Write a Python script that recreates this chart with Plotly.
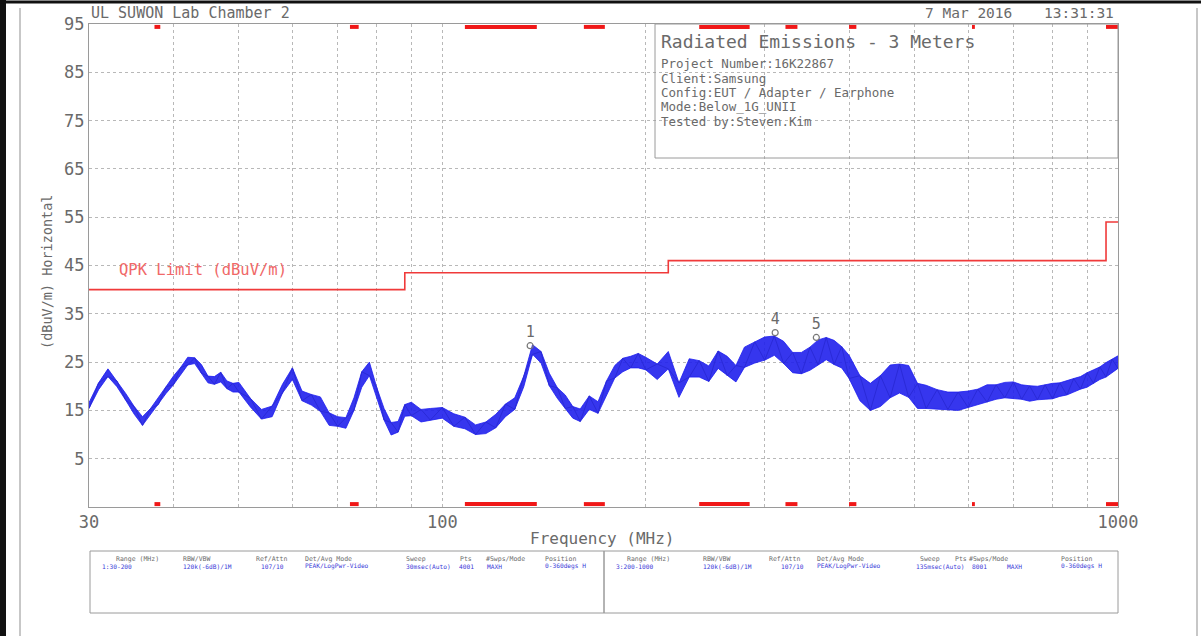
import math
import plotly.graph_objects as go

# Sweep: frequency (MHz), trace centre and half-width of the noise (dBuV/m)
freq = [30, 31, 32, 33, 34, 35, 36, 37, 38, 39, 40, 41, 42, 43, 44, 45, 46, 47, 48, 49, 50,
        52, 54, 56, 58, 60, 62, 64, 66, 68, 70, 72, 74, 76, 78, 80, 82, 84, 86, 88, 90,
        93, 96,
        100, 104, 108, 112, 116, 120, 124, 128, 132, 136, 140, 144, 148, 152, 156, 160,
        165, 170, 175, 180, 185, 190, 195, 200,
        208, 216, 224, 232, 240, 248, 256, 264, 272, 280,
        290, 300, 310, 320, 330, 340, 350, 360, 370, 380, 390, 400,
        415, 430, 445, 460, 475, 490, 505, 520,
        540, 560, 580, 600, 620, 640, 660, 680, 700, 720, 740, 760, 780, 800, 820, 840,
        860, 880, 900, 920, 940, 960, 980, 1000]
level = [16.0, 20.0, 22.8, 20.5, 17.8, 15.0, 12.8, 14.8, 17.0, 19.2, 21.2, 23.2, 25.2, 25.3,
         23.6, 21.4, 21.2, 21.9, 20.3, 19.7, 19.8,
         16.6, 14.2, 14.8, 19.5, 22.6, 18.0, 17.2, 16.3, 13.2, 12.7, 12.4, 16.3, 21.4, 23.6,
         18.6, 14.2, 11.2, 11.6, 15.0, 15.3,
         13.9, 14.2,
         14.5, 13.0, 12.4, 11.0, 11.4, 12.8, 15.0, 16.4, 21.0, 27.6, 26.0, 21.4, 18.6, 16.8,
         14.6, 14.0,
         16.6, 15.6, 19.6, 23.0, 24.4, 25.0, 25.3, 24.7,
         23.0, 25.4, 19.2, 23.8, 23.6, 22.6, 25.5, 24.2, 22.6, 26.0,
         27.0, 27.8, 28.4, 27.0, 24.9, 24.8, 25.7, 27.0, 27.8, 27.0, 26.0, 24.0,
         19.6, 17.8, 19.0, 21.0, 21.6, 21.0, 18.0, 17.8,
         17.3, 17.0, 16.9, 17.3, 17.8, 18.5, 18.8, 19.2, 19.2, 18.8, 18.5, 18.6, 18.8, 19.0,
         19.3, 19.7, 20.2, 20.7, 21.3, 22.0, 22.7, 23.4, 24.2, 25.0]
spread = [0.6, 0.7, 0.8, 0.6, 0.7, 0.8, 0.9, 0.6, 0.8, 0.7, 0.9, 0.7, 0.8, 0.6, 0.9, 0.7,
          0.8, 1.0, 0.8, 0.9, 1.0,
          0.9, 1.0, 1.1, 0.9, 1.2, 1.0, 1.1, 1.5, 1.3, 1.0, 1.1, 1.3, 1.6, 1.4, 1.1, 1.2,
          1.3, 1.1, 1.2, 1.4,
          1.3, 1.2,
          1.1, 1.3, 1.2, 1.0, 1.2, 1.4, 1.3, 1.2, 1.1, 1.0, 1.2, 1.3, 1.1, 1.4, 1.2, 1.3,
          1.4, 1.2, 1.5, 1.3, 1.4, 1.2, 1.5, 1.3,
          1.6, 1.8, 1.5, 1.9, 1.7, 1.6, 1.8, 2.0, 1.7, 2.1,
          2.2, 2.4, 2.0, 2.3, 2.1, 2.2, 2.4, 2.6, 2.3, 2.5, 2.2, 2.4,
          2.6, 2.8, 3.2, 3.4, 3.0, 3.3, 2.6, 2.4,
          2.0, 1.8, 1.9, 1.7, 1.6, 1.8, 1.5, 1.6, 1.7, 1.5, 1.6, 1.4, 1.5, 1.6, 1.4, 1.5,
          1.4, 1.3, 1.5, 1.4, 1.3, 1.5, 1.4, 1.3]

# QPK limit line (step at each frequency)
limit_freq = [30, 88, 216, 960, 1000]
limit_level = [40, 43.5, 46, 54, 54]

# Peak markers
marker_freq = [134.9, 310.9, 357.7]
marker_level = [28.4, 31.1, 30.1]
marker_label = ['1', '4', '5']

# Restricted bands drawn in red along the top and bottom of the frame (MHz)
band_start = [37.5, 73, 108, 162, 240, 322, 399.9, 608, 960]
band_end = [38.25, 75.2, 138, 174, 285, 335.4, 410, 614, 1000]

# Axis ticks
x_tickvals = [30, 40, 50, 60, 70, 80, 90, 100, 200, 300, 400, 500, 600, 700, 800, 900, 1000]
x_ticktext = ['30', '', '', '', '', '', '', '100', '', '', '', '', '', '', '', '', '1000']
y_tickvals = [5, 15, 25, 35, 45, 55, 65, 75, 85, 95]

# Info box and settings table
info_title = 'Radiated Emissions - 3 Meters'
info_lines = ['Project Number:16K22867', 'Client:Samsung', 'Config:EUT / Adapter / Earphone',
              'Mode:Below_1G_UNII', 'Tested by:Steven.Kim']
table_head = ['Range (MHz)', 'RBW/VBW', 'Ref/Attn', 'Det/Avg Mode', 'Sweep', 'Pts',
              '#Swps/Mode', 'Position']
table_row1 = ['1:30-200', '120k(-6dB)/1M', '107/10', 'PEAK/LogPwr-Video', '30msec(Auto)',
              '4001', 'MAXH', '0-360degs H']
table_row2 = ['3:200-1000', '120k(-6dB)/1M', '107/10', 'PEAK/LogPwr-Video', '135msec(Auto)',
              '8001', 'MAXH', '0-360degs H']

FONT = 'DejaVu Sans Mono'
GREY = '#6a6a6a'
BLUE = '#1c1cf0'

# plot area in page pixels
L, R, T, B = 89, 1118, 24, 507


def px(x, y):
    """ page pixel -> paper coords """
    return (x - L) / (R - L), (B - y) / (B - T)


def note(text, x, y, size, color=GREY, xanchor='left', angle=0):
    xp, yp = px(x, y)
    return dict(text=text, x=xp, y=yp, xref='paper', yref='paper', xanchor=xanchor,
                yanchor='middle', showarrow=False, textangle=angle,
                font=dict(size=size, color=color, family=FONT))


def box(x0, y0, x1, y1, color='#9a9a9a', width=1):
    a, b = px(x0, y0)
    c, d = px(x1, y1)
    return dict(type='rect', xref='paper', yref='paper', x0=a, y0=b, x1=c, y1=d,
                line=dict(color=color, width=width))


def vline(x, y0, y1, color, width):
    a, b = px(x, y0)
    _, d = px(x, y1)
    return dict(type='line', xref='paper', yref='paper', x0=a, y0=b, x1=a, y1=d,
                line=dict(color=color, width=width))


fig = go.Figure()

# noise band between the lower and upper edge, then a jagged line through it
lower = [l - s for l, s in zip(level, spread)]
upper = [l + s for l, s in zip(level, spread)]
fig.add_trace(go.Scatter(x=freq, y=lower, mode='lines', line=dict(color=BLUE, width=0.8)))
fig.add_trace(go.Scatter(x=freq, y=upper, mode='lines', fill='tonexty',
                         fillcolor='rgba(32,32,236,0.9)', line=dict(color=BLUE, width=0.8)))
trace_y = [u if i % 2 else lo for i, (lo, u) in enumerate(zip(lower, upper))]
fig.add_trace(go.Scatter(x=freq, y=trace_y, mode='lines', line=dict(color='#2a2ad8', width=1)))

fig.add_trace(go.Scatter(x=limit_freq, y=limit_level, mode='lines', line_shape='hv',
                         line=dict(color='#f03a3a', width=1.6)))

# restricted bands
bx, btop, bbot = [], [], []
for s, e in zip(band_start, band_end):
    bx += [s, e, None]
    btop += [94.4, 94.4, None]
    bbot += [-4.4, -4.4, None]
fig.add_trace(go.Scatter(x=bx, y=btop, mode='lines', line=dict(color='#f01818', width=4)))
fig.add_trace(go.Scatter(x=bx, y=bbot, mode='lines', line=dict(color='#f01818', width=4)))

fig.add_trace(go.Scatter(x=marker_freq, y=marker_level, mode='markers+text', text=marker_label,
                         textposition='top center',
                         textfont=dict(size=15, color=GREY, family=FONT),
                         marker=dict(symbol='circle-open', size=6, color='#777',
                                     line=dict(width=1.2))))

annotations = [
    note('UL SUWON Lab Chamber 2', 89, 13, 15),
    note('7 Mar 2016', 923, 13, 14.5),
    note('13:31:31', 1116, 13, 14.5, xanchor='right'),
    note(info_title, 659, 41, 18),
    note('QPK Limit (dBuV/m)', 117, 270, 15.5, color='#f06868'),
    note('(dBuV/m) Horizontal', 37, 272, 13.5, angle=-90),
    note('Frequency (MHz)', 602, 538, 16, xanchor='center'),
]
for i, line in enumerate(info_lines):
    annotations.append(note(line, 659, 64 + i * 14.3, 12.5))

head_x1 = [114, 181, 254, 303, 404, 458, 484, 543]
val_x1 = [100, 181, 259, 303, 404, 457, 485, 543]
head_x2 = [625, 701, 767, 815, 918, 953, 967, 1059]
val_x2 = [614, 701, 779, 815, 914, 970, 1005, 1059]
for h, v, hx, vx in zip(table_head, table_row1, head_x1, val_x1):
    annotations.append(note(h, hx, 559, 6.5))
    annotations.append(note(v, vx, 566, 6.2, color='#3a3ad8'))
for h, v, hx, vx in zip(table_head, table_row2, head_x2, val_x2):
    annotations.append(note(h, hx, 559, 6.5))
    annotations.append(note(v, vx, 566, 6.2, color='#3a3ad8'))

shapes = [
    box(655, 24, 1118, 158),
    box(90, 551, 604, 613),
    box(604, 551, 1118, 613),
    # page frame
    vline(3, 0, 636, '#111', 6),
    vline(20, 8, 636, '#b5b5b5', 1.5),
    vline(1197, 8, 636, '#b5b5b5', 1.5),
    dict(type='line', xref='paper', yref='paper', x0=px(0, 2)[0], y0=px(0, 2)[1],
         x1=px(1201, 2)[0], y1=px(1201, 2)[1], line=dict(color='#111', width=3)),
]

fig.update_layout(width=1201, height=636, margin=dict(l=L, r=1201 - R, t=T, b=636 - B),
                  paper_bgcolor='white', plot_bgcolor='white', showlegend=False,
                  font=dict(family=FONT, color=GREY),
                  annotations=annotations, shapes=shapes)
fig.update_xaxes(type='log', range=[math.log10(30), 3], tickvals=x_tickvals, ticktext=x_ticktext,
                 showgrid=True, gridcolor='#b8b8b8', griddash='dot', gridwidth=1,
                 showline=True, linecolor='#9a9a9a', mirror=True, ticks='', zeroline=False,
                 tickfont=dict(size=17, color=GREY, family=FONT))
fig.update_yaxes(range=[-5, 95], tickvals=y_tickvals,
                 showgrid=True, gridcolor='#b8b8b8', griddash='dot', gridwidth=1,
                 showline=True, linecolor='#9a9a9a', mirror=True, ticks='', zeroline=False,
                 tickfont=dict(size=17, color=GREY, family=FONT))

fig.write_html('out.html', config={'displayModeBar': False},
               post_script="document.body.style.margin='0';")
